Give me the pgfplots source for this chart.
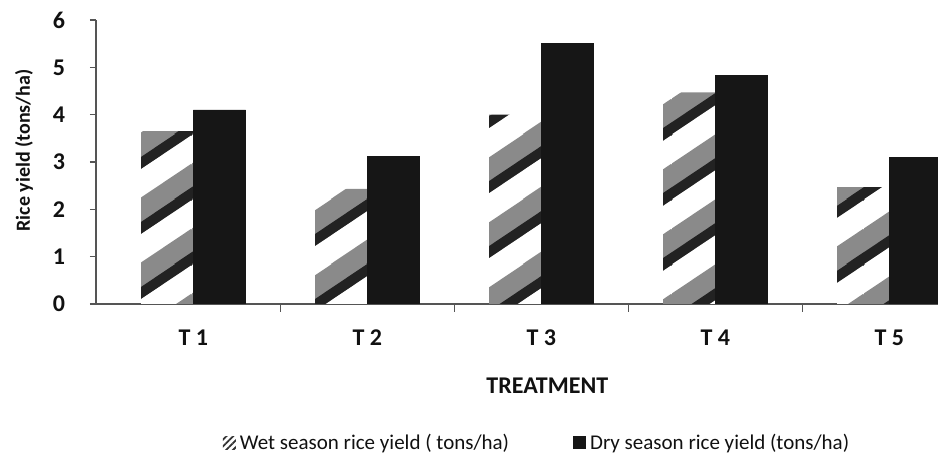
\documentclass[border=0pt]{standalone}
\usepackage{fontspec}
\setmainfont{Carlito}
\usepackage{pgfplots}
\usepackage{pgfplotstable}
\pgfplotsset{compat=1.18}
\usetikzlibrary{patterns,patterns.meta}

% Rice yield (tons/ha) per treatment, wet and dry season
\pgfplotstableread{
x wet dry
0 3.65 4.10
1 2.43 3.12
2 4.00 5.51
3 4.47 4.82
4 2.47 3.10
}\yieldtable

\definecolor{axisgray}{HTML}{555555}
\definecolor{barblack}{HTML}{161616}
\definecolor{labeltext}{HTML}{111111}
\definecolor{stripegray}{HTML}{8A8A8A}
\definecolor{stripedark}{HTML}{222222}

% broad upward stripes on a rectangular tile (rise 32.5pt over 48.2pt)
\pgfdeclarepatterninherentlycolored{wetstripes}
  {\pgfpointorigin}{\pgfpoint{48.2pt}{32.5pt}}{\pgfpoint{48.2pt}{32.5pt}}
{%
  \foreach \off in {0pt,-32.5pt,32.5pt}{%
    \pgfsetfillcolor{stripegray}%
    \pgfpathmoveto{\pgfpoint{0pt}{\off+0pt}}%
    \pgfpathlineto{\pgfpoint{48.2pt}{\off+32.5pt}}%
    \pgfpathlineto{\pgfpoint{48.2pt}{\off+50.5pt}}%
    \pgfpathlineto{\pgfpoint{0pt}{\off+18pt}}%
    \pgfpathclose
    \pgfusepath{fill}%
    \pgfsetfillcolor{stripedark}%
    \pgfpathmoveto{\pgfpoint{0pt}{\off+0pt}}%
    \pgfpathlineto{\pgfpoint{48.2pt}{\off+32.5pt}}%
    \pgfpathlineto{\pgfpoint{48.2pt}{\off+38.5pt}}%
    \pgfpathlineto{\pgfpoint{0pt}{\off+6pt}}%
    \pgfpathclose
    \pgfusepath{fill}%
  }%
}

\begin{document}
\begin{tikzpicture}
\path[use as bounding box] (0,0) rectangle (469pt,229.5pt);
\begin{axis}[
  at={(48pt,77.5pt)}, anchor=south west,
  scale only axis, width=421pt, height=142pt,
  xmin=-0.56, xmax=4.28, ymin=0, ymax=6,
  clip=true,
  axis x line=bottom, axis y line=left,
  axis line style={-, axisgray, line width=0.6pt},
  tick align=outside,
  /pgf/number format/assume math mode=true,
  ytick={0,1,...,6},
  major tick length=3pt,
  ytick style={axisgray, line width=0.6pt},
  xtick={0,1,2,3,4},
  xticklabels={T 1,T 2,T 3,T 4,T 5},
  major x tick style={draw=none},
  minor xtick={0.5,1.5,2.5,3.5},
  minor tick length=4pt,
  minor x tick style={axisgray, line width=0.6pt},
  ticklabel style={font=\fontsize{12}{14}\selectfont\bfseries, text=labeltext},
  yticklabel style={xshift=-9pt},
  xticklabel style={yshift=-6.5pt},
  xlabel={TREATMENT},
  every axis x label/.style={at={(axis description cs:0.536,0)}, anchor=center,
    yshift=-41pt, font=\fontsize{12}{14}\selectfont\bfseries, text=labeltext},
  ylabel={Rice yield (tons/ha)},
  every axis y label/.style={at={(axis description cs:0,0.54)}, xshift=-36pt,
    rotate=90, anchor=center, font=\fontsize{10}{12}\selectfont\bfseries, text=labeltext},
  ybar, bar width=0.3,
  legend columns=2,
  legend style={draw=none, fill=none, at={(axis description cs:0.525,-0.49)}, anchor=center,
    font=\fontsize{10.5}{12}\selectfont, text=labeltext,
    /tikz/every even column/.append style={column sep=30pt}},
  legend image code/.code={\path[#1] (0pt,-3pt) rectangle (6.5pt,3.5pt);},
]
\addlegendimage{pattern={Lines[angle=45,distance=2.4pt,line width=0.9pt]}, pattern color=black!80, draw=none}
\addlegendentry{Wet season rice yield ( tons/ha)}
\addlegendimage{fill=barblack, draw=none}
\addlegendentry{Dry season rice yield (tons/ha)}

% wet season: white bars with broad diagonal stripes
\addplot[bar shift=-0.15, draw=none, fill=white, forget plot,
  postaction={pattern=wetstripes}]
  table[x=x, y=wet] {\yieldtable};
% dry season: solid dark bars
\addplot[bar shift=0.15, draw=barblack, fill=barblack, forget plot]
  table[x=x, y=dry] {\yieldtable};
\end{axis}
\end{tikzpicture}
\end{document}
